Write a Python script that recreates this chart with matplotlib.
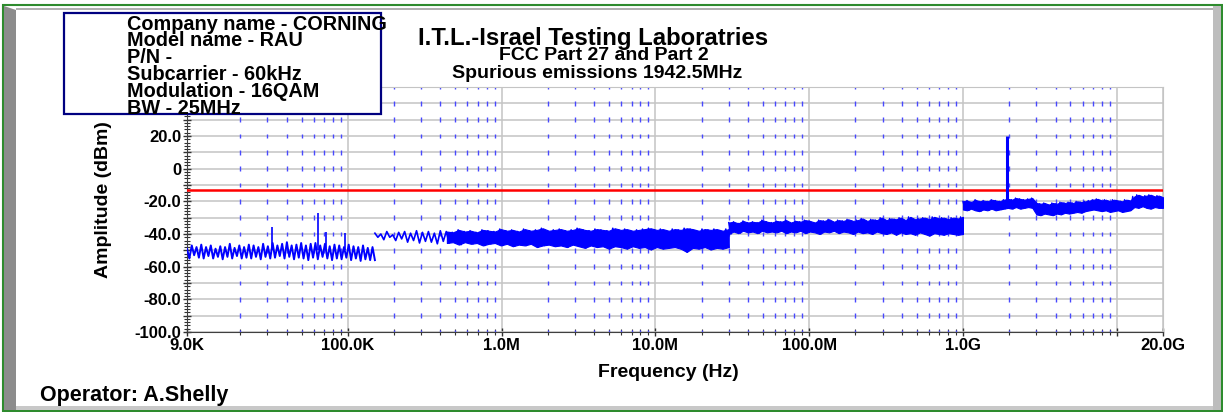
import numpy as np
import matplotlib.pyplot as plt
from matplotlib.patches import Rectangle, Polygon
from matplotlib.ticker import FixedLocator, FuncFormatter, MultipleLocator

# --- Text content ---
info_lines = ["Company name - CORNING", "Model name - RAU", "P/N -",
              "Subcarrier - 60kHz", "Modulation - 16QAM", "BW - 25MHz"]
title_lines = ["I.T.L.-Israel Testing Laboratries", "FCC Part 27 and Part 2",
               "Spurious emissions 1942.5MHz"]
operator = "Operator: A.Shelly"

# --- Axis setup ---
x_major = [9e3, 1e5, 1e6, 1e7, 1e8, 1e9, 1e10, 2e10]
x_labels = ["9.0K", "100.0K", "1.0M", "10.0M", "100.0M", "1.0G", "", "20.0G"]
limit_dbm = -13.0

# --- Trace (dBm), upper / lower edge of the noise per step ---
seg1_span = (9e3, 150e3)
seg1_hi = [-49, -47, -48, -46.5, -48, -47, -49, -47.5, -48, -46,
           -48.5, -47, -48, -46.5, -47, -48, -46, -47.5, -45.5, -47,
           -46, -45, -47, -46.5, -45.5, -47, -46, -45.5, -47, -46,
           -47.5, -46.5, -47, -48, -46.5, -47.5, -48, -47, -48.5, -48]
seg1_lo = [-55, -53, -54.5, -55, -53.5, -55, -54, -55.5, -54, -55,
           -53.5, -55, -54.5, -55, -54, -55.5, -54, -55, -54.5, -53.5,
           -55, -54, -55.5, -54.5, -55, -56, -54.5, -55.5, -54, -55,
           -56, -55, -55.5, -54.5, -56, -55, -56.5, -55.5, -56, -56]
seg1_spike_f = [32e3, 64e3, 72e3, 96e3]
seg1_spike_db = [-36, -27, -39, -39.5]

seg2_span = (150e3, 30e6)
seg2_hi = [-39.5, -40, -38.5, -40.5, -39, -38.5, -39.5, -38, -39, -38.5,
           -39.5, -38, -38.5, -39, -37.5, -38.5, -38, -39, -37.5, -38,
           -38.5, -37, -38, -37.5, -38.5, -37, -38, -37.5, -36.5, -38,
           -37.5, -37, -38, -37.5, -36.5, -37.5, -38, -37, -37.5, -38,
           -36.5, -37.5, -37, -38, -37.5, -37, -36.5, -37.5, -37, -38,
           -37, -37.5, -36.5, -37, -38, -37, -37.5, -37, -38, -37]
seg2_lo = [-42, -43.5, -42, -44, -43, -45, -44, -45.5, -44.5, -45,
           -46, -44.5, -45.5, -45, -46.5, -45, -46, -45.5, -47, -46,
           -45.5, -47, -46, -47.5, -46.5, -47, -46, -48, -47, -46.5,
           -47.5, -47, -48, -46.5, -47.5, -48.5, -47, -48, -47.5, -49,
           -47.5, -48, -49, -47.5, -48.5, -48, -49.5, -48, -49, -48.5,
           -48, -49, -51, -48.5, -49, -48, -49.5, -48.5, -49, -48]

seg3_span = (30e6, 1e9)
seg3_hi = [-33, -32.5, -33.5, -32, -33, -32.5, -33, -31.5, -32.5, -33,
           -32, -32.5, -31.5, -33, -32, -32.5, -31.5, -32, -33, -31.5,
           -32, -31, -32.5, -31.5, -32, -31, -32, -31.5, -30.5, -32,
           -31, -31.5, -30, -31.5, -30.5, -31, -30, -31.5, -29.5, -31,
           -30.5, -30, -31, -29.5, -30.5, -30, -31, -30, -30.5, -29.5]
seg3_lo = [-40, -38.5, -39.5, -38, -39, -38.5, -39.5, -38, -39, -38.5,
           -39, -38, -39.5, -38.5, -39, -38, -39.5, -38.5, -39, -40,
           -38.5, -39, -38, -39.5, -38.5, -39, -40, -38.5, -39.5, -39,
           -40, -38.5, -39.5, -40, -39, -40.5, -39, -40, -39.5, -40.5,
           -39, -40, -41, -39.5, -40, -40.5, -39.5, -40, -40.5, -40]

seg4_span = (1e9, 2e10)
seg4_hi = [-20, -19.5, -20.5, -19, -20, -19.5, -20, -19, -19.5, -20, -19,
           -18.5, -19, -18, -18.5, -19, -18.5, -18,
           -21, -21.5, -21, -22, -21, -21.5, -20.5, -21, -20.5, -21, -20, -20.5, -20, -19.5,
           -19, -18.5, -19.5, -19, -20, -19, -19.5, -20, -19, -19.5,
           -17, -16, -17, -16.5, -16, -17, -16.5, -17.5]
seg4_lo = [-25, -25.5, -24.5, -25.5, -26, -25, -25.5, -24.5, -25.5, -25, -24.5,
           -24, -24.5, -23.5, -24.5, -24, -23.5, -24,
           -28, -28.5, -27.5, -28, -28.5, -27.5, -28, -27, -27.5, -27, -26.5, -27, -26, -25.5,
           -25, -25.5, -26, -25.5, -26.5, -26, -25.5, -26.5, -26, -25.5,
           -23.5, -24, -23, -24, -24.5, -23.5, -24, -24]
carrier_f = 1.945e9
carrier_db = 20.0

W, H = 1223, 412


def fx(x):
    return x / W


def fy(y):
    return 1 - y / H


plt.rcParams['font.family'] = ['Liberation Sans', 'DejaVu Sans']
plt.rcParams['font.weight'] = 'bold'
plt.rcParams['axes.labelweight'] = 'bold'

fig = plt.figure(figsize=(W / 100, H / 100), dpi=100)
ax = fig.add_axes([fx(187), fy(332), fx(1163) - fx(187), fy(87) - fy(332)])
ax.set_xscale('log')
ax.set_xlim(9e3, 2e10)
ax.set_ylim(-100, 50)

# --- ticks and grid ---
ax.xaxis.set_major_locator(FixedLocator(x_major))
ax.set_xticklabels(x_labels)
minors = [m * 10 ** k for k in range(4, 10) for m in range(2, 10)]
ax.xaxis.set_minor_locator(FixedLocator(minors))
ax.xaxis.set_minor_formatter(FuncFormatter(lambda v, p: ""))
ax.yaxis.set_major_locator(MultipleLocator(10))
ax.yaxis.set_minor_locator(MultipleLocator(2))
ax.yaxis.set_major_formatter(FuncFormatter(
    lambda v, p: "" if round(v) % 20 else ("0" if round(v) == 0 else f"{v:.1f}")))

ax.grid(True, which='major', color='#c4c4c4', lw=1.1)
ax.set_axisbelow(True)
# blue dashed minor frequency lines: short dashes centred on each 10 dB grid line
for g in range(-100, 51, 10):
    ax.vlines(minors, g - 1.5, g + 1.5, colors='#4848ff', lw=1.0, zorder=1)
ax.tick_params(which='major', direction='inout', length=6, width=1, color='#303030',
               labelsize=12, pad=1)
ax.tick_params(which='minor', direction='inout', length=4, width=0.8, color='#303030')
for s in ['top', 'right']:
    ax.spines[s].set_color('#c4c4c4')
for s in ['left', 'bottom']:
    ax.spines[s].set_color('#404040')

# limit line
ax.axhline(limit_dbm, color='#ff0000', lw=1.8, zorder=3)

blue = '#0000ff'


def draw_seg(span, hi, lo, lw=1.0, fill_from=None):
    n = len(hi)
    f2 = np.geomspace(span[0], span[1], 2 * n)
    zig = np.column_stack([hi, lo]).ravel()
    ax.plot(f2, zig, color=blue, lw=lw, zorder=4)
    if fill_from is not None:
        f1 = np.geomspace(span[0], span[1], n)
        ax.fill_between(f1[fill_from:], lo[fill_from:], hi[fill_from:],
                        color=blue, lw=0.8, zorder=4)


draw_seg(seg1_span, seg1_hi, seg1_lo, lw=1.4)
draw_seg(seg2_span, seg2_hi, seg2_lo, lw=1.2, fill_from=12)
draw_seg(seg3_span, seg3_hi, seg3_lo, fill_from=0)
draw_seg(seg4_span, seg4_hi, seg4_lo, fill_from=0)
ax.vlines(seg1_spike_f, -50, seg1_spike_db, color=blue, lw=1.2, zorder=4)
ax.vlines([carrier_f], -23, carrier_db, color=blue, lw=2.2, zorder=4)

ax.set_xlabel("Frequency (Hz)", fontsize=14)
ax.xaxis.set_label_coords((668 - 187) / 976, (332 - 364) / 245)
ax.set_ylabel("Amplitude (dBm)", fontsize=14)
ax.yaxis.set_label_coords((112 - 187) / 976, (332 - 200) / 245)

# --- info box ---
fig.patches.append(Rectangle((fx(64), fy(114)), fx(381) - fx(64), fy(13) - fy(114),
                             transform=fig.transFigure, facecolor='white',
                             edgecolor='#000080', lw=1.6, zorder=5))
for i, line in enumerate(info_lines):
    fig.text(fx(127), fy(29.5 + i * 16.8), line, fontsize=14.3, va='baseline',
             ha='left', zorder=6)

# --- titles ---
fig.text(fx(593), fy(45), title_lines[0], fontsize=17.2, ha='center', va='baseline')
fig.text(fx(604), fy(59.5), title_lines[1], fontsize=14, ha='center', va='baseline')
fig.text(fx(597), fy(78), title_lines[2], fontsize=14, ha='center', va='baseline')
fig.text(fx(40), fy(401), operator, fontsize=15.5, ha='left', va='baseline')

# --- window frame ---
green = '#2e8b2e'
fig.patches.append(Rectangle((fx(3), fy(411)), fx(1222) - fx(3), fy(5) - fy(411),
                             transform=fig.transFigure, fill=False, edgecolor=green, lw=1.5))
fig.patches.append(Polygon([(fx(4), fy(6)), (fx(16), fy(10)), (fx(16), fy(410)), (fx(4), fy(410))],
                           closed=True, transform=fig.transFigure, facecolor='#8c8c8c', lw=0))
fig.patches.append(Rectangle((fx(16), fy(9.5)), fx(1213) - fx(16), fy(8) - fy(9.5),
                             transform=fig.transFigure, facecolor='#b0b0b0', lw=0))
fig.patches.append(Rectangle((fx(1213), fy(410)), fx(1221) - fx(1213), fy(6) - fy(410),
                             transform=fig.transFigure, facecolor='#bdbdbd', lw=0))
fig.patches.append(Rectangle((fx(16), fy(410)), fx(1213) - fx(16), fy(406) - fy(410),
                             transform=fig.transFigure, facecolor='#c8c8c8', lw=0))

fig.savefig("out.png", dpi=100)
